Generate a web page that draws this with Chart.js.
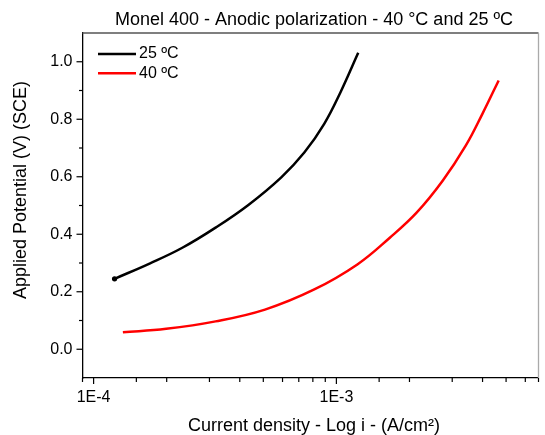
<!DOCTYPE html>
<html>
<head>
<meta charset="utf-8">
<script src="https://cdn.jsdelivr.net/npm/chart.js@4"></script>
<style>
  html, body { margin: 0; padding: 0; background: #fff; }
  #wrap { width: 545px; height: 435px; position: relative; }
</style>
</head>
<body>
<div id="wrap"><canvas id="myChart"></canvas></div>
<script>
// Dados (densidade de corrente A/cm², potencial V)
const current25 = [1.22e-4, 1.70e-4, 2.32e-4, 3.18e-4, 4.34e-4, 5.93e-4, 7.39e-4, 8.91e-4, 1.04e-3, 1.23e-3];
const potential25 = [0.245, 0.298, 0.353, 0.423, 0.502, 0.598, 0.685, 0.784, 0.894, 1.031];

const current40 = [1.32e-4, 1.99e-4, 3.18e-4, 5.08e-4, 8.11e-4, 1.22e-3, 1.66e-3, 2.14e-3, 2.74e-3, 3.41e-3, 3.99e-3, 4.66e-3];
const potential40 = [0.059, 0.071, 0.097, 0.138, 0.208, 0.295, 0.388, 0.475, 0.586, 0.708, 0.818, 0.935];

const seriesLabels = ["25 ºC", "40 ºC"];
const xMajorTicks = [1e-4, 1e-3];
const xTickLabels = ["1E-4", "1E-3"];
const yTickLabels = ["0.0", "0.2", "0.4", "0.6", "0.8", "1.0"];

const chartTitle = "Monel 400 - Anodic polarization - 40 °C and 25 ºC";
const xTitle = "Current density - Log i - (A/cm²)";
const yTitle = "Applied Potential (V) (SCE)";

const FONT = "'Liberation Sans', Arial, sans-serif";

const toPoints = (xs, ys) => xs.map((x, i) => ({ x: x, y: ys[i] }));

// Ticks, moldura, títulos e legenda desenhados à mão
const decoracao = {
  id: "decoracao",
  afterDraw(chart) {
    const ctx = chart.ctx;
    const area = chart.chartArea;
    const xs = chart.scales.x;
    const ys = chart.scales.y;
    ctx.save();

    // moldura superior e direita
    ctx.lineWidth = 1.3;
    ctx.strokeStyle = "#555";
    ctx.beginPath();
    ctx.moveTo(area.left, area.top);
    ctx.lineTo(area.right, area.top);
    ctx.stroke();
    ctx.strokeStyle = "#aaa";
    ctx.beginPath();
    ctx.moveTo(area.right, area.top);
    ctx.lineTo(area.right, area.bottom);
    ctx.stroke();

    // ticks
    ctx.strokeStyle = "#000";
    ctx.lineWidth = 1.2;
    xs.ticks.forEach((t) => {
      const v = t.value;
      if (v < xs.min * 0.999 || v > xs.max) return;
      const lg = Math.log10(v);
      const major = Math.abs(lg - Math.round(lg)) < 1e-6;
      const px = xs.getPixelForValue(v);
      ctx.beginPath();
      ctx.moveTo(px, area.bottom);
      ctx.lineTo(px, area.bottom + (major ? 6 : 4));
      ctx.stroke();
    });
    ys.ticks.forEach((t) => {
      const v = t.value;
      if (v < -1e-9 || v > 1.0 + 1e-9) return;
      const major = Math.round(v * 10) % 2 === 0;
      const py = ys.getPixelForValue(v);
      ctx.beginPath();
      ctx.moveTo(area.left, py);
      ctx.lineTo(area.left - (major ? 6 : 3.5), py);
      ctx.stroke();
    });

    // títulos
    ctx.fillStyle = "#000";
    ctx.textAlign = "center";
    ctx.textBaseline = "middle";
    ctx.font = "18px " + FONT;
    ctx.fillText(chartTitle, 314, 20);
    ctx.fillText(xTitle, 314, 426);
    ctx.save();
    ctx.translate(21, 190);
    ctx.rotate(-Math.PI / 2);
    ctx.fillText(yTitle, 0, 0);
    ctx.restore();

    // legenda
    ctx.font = "16px " + FONT;
    ctx.textAlign = "left";
    chart.data.datasets.forEach((ds, i) => {
      const y = 54 + i * 19.3;
      ctx.strokeStyle = ds.borderColor;
      ctx.lineWidth = 2.5;
      ctx.beginPath();
      ctx.moveTo(98, y);
      ctx.lineTo(136, y);
      ctx.stroke();
      ctx.fillText(ds.label, 139, y);
    });

    ctx.restore();
  },
};

const config = {
  type: "line",
  data: {
    datasets: [
      {
        label: seriesLabels[0],
        data: toPoints(current25, potential25),
        borderColor: "#000000",
        backgroundColor: "#000000",
        borderWidth: 2.5,
        pointRadius: current25.map((v, i) => (i === 0 ? 1.4 : 0)),
        tension: 0.4,
      },
      {
        label: seriesLabels[1],
        data: toPoints(current40, potential40),
        borderColor: "#ff0000",
        backgroundColor: "#ff0000",
        borderWidth: 2.5,
        pointRadius: 0,
        tension: 0.4,
      },
    ],
  },
  options: {
    responsive: true,
    maintainAspectRatio: false,
    animation: false,
    events: [],
    layout: { padding: { top: 33, right: 1.7, left: 0, bottom: 0 } },
    plugins: {
      legend: { display: false },
      title: { display: false },
      tooltip: { enabled: false },
    },
    scales: {
      x: {
        type: "logarithmic",
        min: 9e-5,
        max: 6.8e-3,
        afterFit: (s) => { s.height = 57; },
        grid: { display: true, drawOnChartArea: false, drawTicks: true, tickLength: 6, tickColor: "rgba(0,0,0,0)" },
        border: { display: true, color: "#000", width: 1.3 },
        ticks: {
          autoSkip: false,
          maxRotation: 0,
          padding: 4,
          color: "#000",
          font: { size: 16, family: FONT },
          callback: (v) => {
            const i = xMajorTicks.findIndex((m) => Math.abs(v - m) / m < 1e-6);
            return i >= 0 ? xTickLabels[i] : "";
          },
        },
      },
      y: {
        min: -0.1,
        max: 1.1,
        afterFit: (s) => { s.width = 82.5; },
        grid: { display: true, drawOnChartArea: false, drawTicks: true, tickLength: 6, tickColor: "rgba(0,0,0,0)" },
        border: { display: true, color: "#000", width: 1.3 },
        ticks: {
          stepSize: 0.1,
          autoSkip: false,
          padding: 4,
          color: "#000",
          font: { size: 16, family: FONT },
          callback: (v) => {
            const k = Math.round(v * 10);
            if (k < 0 || k > 10 || k % 2 !== 0) return "";
            return yTickLabels[k / 2];
          },
        },
      },
    },
  },
  plugins: [decoracao],
};

const myChart = new Chart(document.getElementById("myChart"), config);
</script>
</body>
</html>
